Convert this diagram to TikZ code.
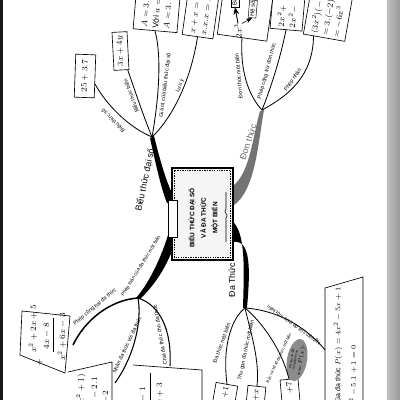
\documentclass[tikz,border=0pt]{standalone}
\usepackage{fontspec}
\setmainfont{Liberation Sans}
\usetikzlibrary{arrows.meta,shapes.geometric,calc}

\tikzset{
  limbtext/.style={font=\fontsize{7.5}{8}\selectfont, inner sep=0pt},
  twig/.style={line width=.7pt},
  twigtext/.style={font=\fontsize{4.6}{5}\selectfont, inner sep=.5pt},
  mathbox/.style={draw, line width=.55pt, fill=white, font=\fontsize{7}{9.5}\selectfont, inner sep=2pt},
  stub/.style={font=\fontsize{7}{9.5}\selectfont, inner sep=0pt},
}

\begin{document}
\begin{tikzpicture}[x=.3mm,y=.3mm]
\useasboundingbox (0,0) rectangle (400,-400);
\clip (0,0) rectangle (400,-400);
\fill[white] (0,0) rectangle (400,-400);
% scan edges
\fill[black!90] (0,0) rectangle (3,-400);
\shade[left color=black!25,right color=black!40] (387,0) rectangle (400,-400);

% hubs
\coordinate (hubA) at (152,-137);
\coordinate (hubB) at (262,-110);
\coordinate (hubC) at (245,-308);
\coordinate (hubD) at (138,-298);

% thick limbs
\fill (167,-203) .. controls (161,-188) and (156,-165) .. (150,-138) -- (154,-136) .. controls (160,-160) and (166,-182) .. (176,-202) -- cycle;
\fill (168,-235) .. controls (162,-255) and (150,-282) .. (136,-298) -- (140,-299) .. controls (156,-284) and (170,-262) .. (177,-236) -- cycle;
\fill[black!55] (233,-186) .. controls (250,-172) and (252,-140) .. (260,-111) -- (264,-110) .. controls (258,-142) and (256,-190) .. (233,-206) -- cycle;
\fill (232,-221) .. controls (246,-232) and (244,-270) .. (243,-308) -- (247,-308) .. controls (250,-272) and (252,-238) .. (232,-242) -- cycle;

% centre
\node[draw, line width=1.1pt, fill=black!4, minimum width=18.3mm, minimum height=27.6mm] (core) at (202.5,-214) {};
\draw[dash pattern=on 1.2pt off .9pt, line width=.4pt] ([shift={(.9mm,-.9mm)}]core.north west) rectangle ([shift={(-.9mm,.9mm)}]core.south east);
\node[draw, line width=.6pt, fill=white, minimum width=2.7mm, minimum height=11.1mm] (tab) at (172.5,-218.5) {};
\node[rotate=90, align=center, font=\bfseries\fontsize{5.5}{9.8}\selectfont] (title) at (203.5,-218) {BIỂU THỨC ĐẠI SỐ\\VÀ ĐA THỨC\\MỘT BIẾN};
\draw[line width=.5pt] (226,-192) -- (226,-209) .. controls (222,-212) and (230,-215) .. (226,-218) -- (226,-242);

% limb labels
\node[limbtext, rotate=78] (lblA) at (145,-180) {Biểu thức đại số};
\node[limbtext, rotate=72, text=black!60] (lblB) at (248,-142) {Đơn thức};
\node[limbtext, rotate=90] (lblC) at (232,-280) {Đa Thức};
\node[twigtext, rotate=58, font=\fontsize{4.2}{5}\selectfont] (lblD) at (141,-266) {Phép toán của đa thức một biến};

% Biểu thức đại số
\node[mathbox, rotate=88, minimum width=12.9mm, minimum height=6mm] (sumbox) at (85,-76) {$25+3.7$};
\node[mathbox, rotate=93, minimum width=11.4mm, minimum height=4.5mm] (exprbox) at (120.5,-51) {$3x+4y$};
\node[mathbox, rotate=85, anchor=west, text width=16mm, align=left, minimum height=13.2mm] (valuebox) at (155,-31) {$A=3.$\\Với $a=$\\$A=3.$};
\node[mathbox, rotate=82, anchor=west, text width=16mm, align=left, minimum height=9.3mm] (notebox) at (197.5,-37) {$x+x=2x$\\$x.x.x=x^3$};
\draw[twig] (hubA) .. controls (128,-127) and (106,-104) .. (sumbox.-127);
\draw[twig] (hubA) .. controls (143,-115) and (134,-88) .. (exprbox.-162);
\draw[twig] (hubA) .. controls (157,-110) and (163,-60) .. (valuebox.west);
\draw[twig] (hubA) .. controls (170,-120) and (190,-85) .. (notebox.west);
\node[twigtext, rotate=135] (t1) at (113,-121) {Biểu thức số};
\node[twigtext, rotate=110] (t2) at (131,-96) {Biểu thức biến};
\node[twigtext, rotate=83] (t3) at (165,-85) {Giá trị của biểu thức đại số};
\node[twigtext, rotate=70] (t4) at (180,-86) {Lưu ý};

% Đơn thức
\node[mathbox, rotate=82, anchor=west, minimum width=20mm, minimum height=15mm] (monobox) at (242,-38) {};
\node[stub, rotate=90] (deg) at (238,-31) {$2x^3$};
\node[draw, rotate=90, anchor=west, inner sep=1pt, font=\fontsize{5}{6}\selectfont] (degbox) at (235,-7) {Bậc};
\node[draw, rotate=85, anchor=west, inner sep=1pt, font=\fontsize{5}{6}\selectfont] (coefbox) at (252,-18) {Hệ số};
\draw[-{Stealth}, line width=.8pt] (deg.east) -- (degbox.west);
\draw[-{Stealth}, line width=.5pt] (deg.south east) -- (coefbox.west);
\node[mathbox, rotate=85, anchor=west, text width=14mm, align=left, minimum height=9.6mm] (addbox) at (286,-30) {$2x^2+$\\$2x^2-$};
\node[mathbox, rotate=80, anchor=west, text width=16mm, align=left, minimum height=12.6mm] (mulbox) at (324,-38) {$(3x^2)(-$\\$=3.(-2)$\\$=-6x^3$};
\draw[twig] (hubB) .. controls (248,-95) and (240,-70) .. (monobox.west);
\draw[twig] (hubB) .. controls (270,-90) and (280,-60) .. (addbox.west);
\draw[twig] (hubB) .. controls (290,-95) and (313,-75) .. ($(mulbox.west)!.5!(mulbox.north west)$);
\node[twigtext, rotate=95] (t5) at (239,-76) {Đơn thức một biến};
\node[twigtext, rotate=75] (t6) at (267,-71) {Phép cộng trừ đơn thức};
\node[twigtext, rotate=55] (t7) at (293,-80) {Phép nhân};

% Đa thức
\node[mathbox, rotate=80, anchor=east, text width=10mm, align=right, minimum height=6.6mm] (polyA) at (227,-384) {$+1$};
\node[mathbox, rotate=84, anchor=east, text width=10mm, align=right, minimum height=5.4mm] (polyB) at (257,-386) {$+x$};
\node[mathbox, rotate=95, anchor=east, text width=10mm, align=right, minimum height=5.4mm] (polyC) at (289,-379) {$+7$};
\draw[line width=.55pt, fill=white] (325,-405) -- (325,-288) -- (363,-277) -- (363,-405);
\coordinate (rootbox) at (325,-350);
\node[rotate=90, anchor=east, inner sep=0pt, font=\fontsize{6}{7}\selectfont] (roottext) at (338,-287) {Nghiệm của đa thức $P(x)=4x^2-5x+1$};
\node[rotate=90, anchor=east, inner sep=0pt, font=\fontsize{6}{7}\selectfont] (rootcheck) at (353,-345) {$4.1^2-5.1+1=0$};
\node[ellipse, fill=black!45, rotate=80, minimum width=10.2mm, minimum height=6mm, inner sep=0pt, align=center, font=\fontsize{2.6}{3}\selectfont] (quiz) at (297,-360) {Khi nào số $a$\\là nghiệm của\\đa thức $P(x)$?};
\draw[twig] (hubC) .. controls (232,-318) and (222,-345) .. (polyA.east);
\draw[twig] (hubC) .. controls (250,-330) and (260,-360) .. (polyB.east);
\draw[twig] (hubC) .. controls (262,-322) and (282,-350) .. (polyC.east);
\draw[twig] (hubC) .. controls (275,-310) and (305,-325) .. (rootbox);
\node[twigtext, rotate=70] (t8) at (222,-343) {Đa thức một biến};
\node[twigtext, rotate=78] (t9) at (246,-350) {Thu gọn đa thức một biến};
\node[twigtext, rotate=65, font=\fontsize{3.4}{4}\selectfont] (t10) at (279,-358) {Bậc và hệ số đa thức một biến};
\node[twigtext, rotate=144, font=\fontsize{4.2}{5}\selectfont] (t11) at (294,-325) {Nghiệm của đa thức một biến};

% Phép toán
\draw[line width=.55pt, fill=white] (22,-311) -- (70,-316) -- (65,-373) -- (20,-355) -- cycle;
\node[stub, rotate=90] (augend) at (33,-329) {$x^2+2x+5$};
\node[stub, rotate=90] (addend) at (47,-336) {$4x-8$};
\node[stub, rotate=90] (total) at (62,-337) {$x^2+6x-3$};
\draw[line width=.5pt] (53,-318) -- (53,-352);
\node[stub] (plus) at (40,-362) {$+$};
\coordinate (sumtip) at (73,-345);
\draw[line width=.55pt, fill=white] (68,-372) -- (112,-362) -- (112,-405) -- (68,-405);
\node[stub, rotate=90, anchor=east] (factor) at (81,-374) {$(2x^2+1)$};
\node[stub, rotate=90, anchor=east] (partial) at (94,-377) {$2x^2-2.1$};
\node[stub, rotate=90, anchor=east] (rest) at (106,-391) {$-2$};
\coordinate (prodtip) at (115,-383);
\draw[line width=.55pt, fill=white] (133,-365) -- (202,-370) -- (202,-405) -- (133,-405);
\draw[line width=.5pt] (150,-373) -- (150,-405);
\node[stub, rotate=90, anchor=east] (divisor) at (143,-387) {$x-1$};
\node[stub, rotate=90, anchor=east] (quotient) at (160,-383) {$2x+3$};
\coordinate (divtip) at (170,-366);
\draw[line width=1.3pt] (hubD) .. controls (110,-300) and (85,-320) .. (sumtip);
\draw[line width=.9pt] (hubD) .. controls (142,-320) and (135,-355) .. (prodtip);
\draw[line width=.9pt] (hubD) .. controls (160,-305) and (172,-330) .. (divtip);
\node[twigtext, rotate=40] (t12) at (95,-307) {Phép cộng hai đa thức};
\node[twigtext, rotate=65] (t13) at (127,-345) {Nhân đa thức với đa thức};
\node[twigtext, rotate=100] (t14) at (160,-335) {Chia đa thức cho đa thức};
\end{tikzpicture}
\end{document}
